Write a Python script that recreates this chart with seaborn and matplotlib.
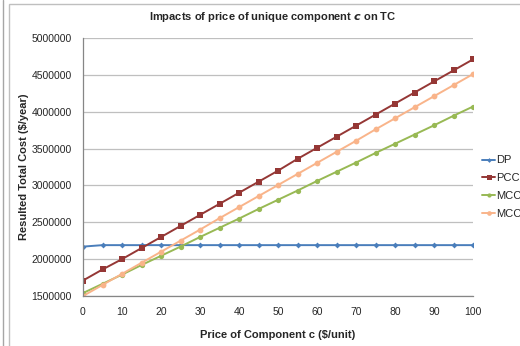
import matplotlib
matplotlib.use("Agg")
import matplotlib.pyplot as plt
import seaborn as sns
import pandas as pd
from matplotlib.patches import Rectangle
from matplotlib.lines import Line2D

price = [0, 5, 10, 15, 20, 25, 30, 35, 40, 45, 50, 55, 60, 65, 70, 75, 80, 85, 90, 95, 100]
dp = [2170000, 2190000, 2190000, 2190000, 2190000, 2190000, 2190000, 2190000, 2190000, 2190000,
      2190000, 2190000, 2190000, 2190000, 2190000, 2190000, 2190000, 2190000, 2190000, 2190000, 2190000]
pcc = [1710000, 1860000, 2000000, 2150000, 2300000, 2450000, 2600000, 2750000, 2900000, 3050000,
       3200000, 3360000, 3510000, 3660000, 3810000, 3960000, 4110000, 4260000, 4410000, 4560000, 4710000]
mcc_g = [1540000, 1665000, 1790000, 1920000, 2045000, 2170000, 2300000, 2425000, 2550000, 2680000,
         2805000, 2930000, 3060000, 3185000, 3310000, 3440000, 3565000, 3690000, 3815000, 3945000, 4070000]
mcc_o = [1500000, 1650000, 1800000, 1950000, 2100000, 2250000, 2400000, 2555000, 2705000, 2855000,
         3005000, 3155000, 3305000, 3455000, 3605000, 3760000, 3910000, 4060000, 4210000, 4360000, 4510000]
series_labels = ["DP", "PCC", "MCC", "MCC"]
x_ticks = [0, 10, 20, 30, 40, 50, 60, 70, 80, 90, 100]
y_ticks = [1500000, 2000000, 2500000, 3000000, 3500000, 4000000, 4500000, 5000000]

sns.set_style("white")
plt.rcParams['font.family'] = ['Liberation Sans', 'DejaVu Sans']

fig = plt.figure(figsize=(5.2, 3.46), dpi=100)
ax = fig.add_axes([83/520, 1-296/346, 390/520, 258/346])

styles = [
    (dp, "#4A7EBB", "D", 3),
    (pcc, "#953735", "s", 4.5),
    (mcc_g, "#98B954", "o", 3.8),
    (mcc_o, "#F9B48A", "o", 4.2),
]
handles = []
for (vals, col, mk, ms), lab in zip(styles, series_labels):
    df = pd.DataFrame({"price": price, "cost": vals})
    sns.lineplot(data=df, x="price", y="cost", ax=ax, color=col, marker=mk,
                 markersize=ms, markeredgewidth=0, linewidth=1.4, legend=False)
    handles.append(Line2D([], [], color=col, marker=mk, markersize=ms * 0.8,
                          markeredgewidth=0, linewidth=1.4, label=lab))

ax.set_xlim(0, 100)
ax.set_ylim(1500000, 5000000)
ax.set_xticks(x_ticks)
ax.set_yticks(y_ticks)
ax.set_xticklabels([str(t) for t in x_ticks], fontsize=7.5, color="#262626")
ax.set_yticklabels([str(t) for t in y_ticks], fontsize=7.5, color="#262626")
ax.tick_params(axis='both', length=0, pad=8)
ax.yaxis.grid(True, color="#BFBFBF", linewidth=0.9)
ax.xaxis.grid(False)
for s in ["top", "right"]:
    ax.spines[s].set_visible(False)
for s in ["left", "bottom"]:
    ax.spines[s].set_color("#868686")
    ax.spines[s].set_linewidth(0.9)

ax.set_xlabel("Price of Component c ($/unit)", fontsize=8, fontweight="bold", labelpad=9)
ax.set_ylabel("Resulted Total Cost ($/year)", fontsize=8, fontweight="bold", labelpad=2)
fig.text(273/520, 1-17/346, "Impacts of price of unique component $\\mathbfit{c}$ on TC",
         ha="center", va="center", fontsize=8, fontweight="bold")

fig.legend(handles=handles, loc="upper left", bbox_to_anchor=(478/520, 1-151/346),
           frameon=False, fontsize=8, handlelength=1.1, handletextpad=0.1,
           labelspacing=0.7, borderaxespad=0)

fig.patches.append(Rectangle((9/520, -0.1), 1.2, 0.1 + 1 - 4/346, transform=fig.transFigure,
                             fill=False, edgecolor="#BFBFBF", linewidth=1))
fig.lines.append(Line2D([3/520, 3/520], [0, 1], transform=fig.transFigure,
                        color="#A6A6A6", linewidth=1))

fig.savefig("out.png", dpi=100)
